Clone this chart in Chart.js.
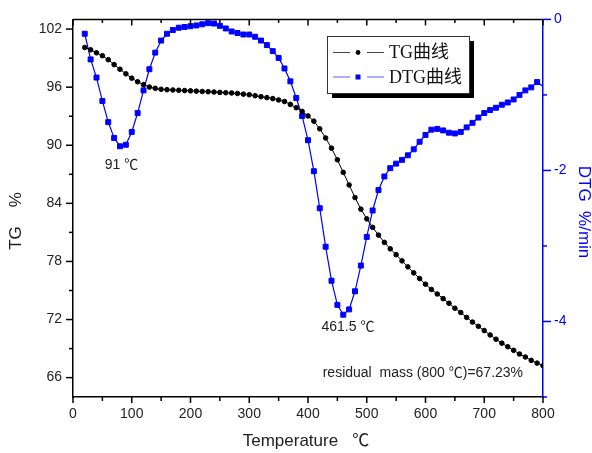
<!DOCTYPE html>
<html>
<head>
<meta charset="utf-8">
<script src="https://cdn.jsdelivr.net/npm/chart.js@4.4.1/dist/chart.umd.min.js"></script>
<style>
body { margin: 0; background: #fff; }
</style>
</head>
<body>
<canvas id="tg_canvas" width="592" height="453"></canvas>
<script>
// temperature (C) of each sample
const temperature = [20, 30, 40, 50, 60, 70, 80, 90, 100, 110, 120, 130, 140, 150, 160, 170, 180, 190, 200,
    210, 220, 230, 240, 250, 260, 270, 280, 290, 300, 310, 320, 330, 340, 350, 360, 370, 380, 390, 400,
    410, 420, 430, 440, 450, 460, 470, 480, 490, 500, 510, 520, 530, 540, 550, 560, 570, 580, 590, 600,
    610, 620, 630, 640, 650, 660, 670, 680, 690, 700, 710, 720, 730, 740, 750, 760, 770, 780, 790, 800];

// TG %
const tg_values = [100.1, 99.86, 99.55, 99.25, 98.84, 98.33, 97.85, 97.38, 96.93, 96.56, 96.26, 96.01, 95.88, 95.78, 95.74, 95.71, 95.68, 95.65, 95.62,
    95.59, 95.56, 95.53, 95.5, 95.46, 95.43, 95.4, 95.35, 95.28, 95.22, 95.12, 95.02, 94.92, 94.82, 94.68, 94.52, 94.22, 93.88, 93.5, 93.03,
    92.49, 91.7, 90.75, 89.7, 88.5, 87.2, 85.9, 84.6, 83.4, 82.4, 81.52, 80.72, 79.97, 79.3, 78.7, 78.06, 77.44, 76.82, 76.23, 75.65,
    75.11, 74.64, 74.16, 73.68, 73.17, 72.73, 72.22, 71.74, 71.3, 70.86, 70.41, 69.97, 69.56, 69.19, 68.82, 68.44, 68.13, 67.78, 67.5, 67.23];

// DTG %/min
const dtg_values = [-0.19, -0.53, -0.77, -1.08, -1.36, -1.57, -1.68, -1.66, -1.49, -1.24, -0.94, -0.66, -0.44, -0.28, -0.19, -0.14, -0.11, -0.1, -0.09,
    -0.08, -0.065, -0.05, -0.055, -0.085, -0.12, -0.16, -0.18, -0.2, -0.2, -0.23, -0.28, -0.34, -0.42, -0.51, -0.65, -0.82, -1.04, -1.28, -1.6,
    -2.01, -2.5, -3.01, -3.46, -3.78, -3.91, -3.84, -3.6, -3.26, -2.88, -2.53, -2.26, -2.08, -1.97, -1.91, -1.86, -1.8, -1.72, -1.62, -1.53,
    -1.46, -1.45, -1.47, -1.5, -1.51, -1.49, -1.43, -1.37, -1.3, -1.24, -1.2, -1.17, -1.13, -1.1, -1.06, -1.0, -0.94, -0.9, -0.83, -0.89];

// ticks
const temp_major = [0, 100, 200, 300, 400, 500, 600, 700, 800];
const temp_minor = [50, 150, 250, 350, 450, 550, 650, 750];
const tg_major = [66, 72, 78, 84, 90, 96, 102];
const tg_minor = [69, 75, 81, 87, 93, 99];
const dtg_major = [-4, -2, 0];
const dtg_minor = [-5, -3, -1];

const tg_label = 'TG曲线';
const dtg_label = 'DTG曲线';

// notes, placed in (temperature, TG) units
const notes = [
    {text: '91 ℃', x: 54, y: 87.9},
    {text: '461.5 ℃', x: 423, y: 71.2},
    {text: 'residual  mass (800 ℃)=67.23%', x: 425, y: 66.5}
];

const sans = "'Liberation Sans', Arial, 'Noto Sans CJK SC', sans-serif";
const serif = "'Liberation Serif', 'Times New Roman', 'Noto Sans CJK SC', serif";
const blue = '#0000ff';

const frame_plugin = {
    id: 'frame_plugin',
    afterDraw(chart) {
        const ctx = chart.ctx;
        const area = chart.chartArea;
        const sx = chart.scales.x, sy = chart.scales.y, sy1 = chart.scales.y1;
        ctx.save();
        ctx.lineWidth = 1.5;

        // top frame line with inward ticks
        ctx.strokeStyle = '#000';
        ctx.beginPath();
        ctx.moveTo(area.left, area.top);
        ctx.lineTo(area.right, area.top);
        ctx.stroke();

        function tick(x1, y1, x2, y2, color) {
            ctx.strokeStyle = color;
            ctx.beginPath();
            ctx.moveTo(x1, y1);
            ctx.lineTo(x2, y2);
            ctx.stroke();
        }
        for (v of temp_major) {
            const px = sx.getPixelForValue(v);
            tick(px, area.bottom, px, area.bottom + 6, '#000');
            tick(px, area.top, px, area.top + 6, '#000');
        }
        for (v of temp_minor) {
            const px = sx.getPixelForValue(v);
            tick(px, area.bottom, px, area.bottom + 4, '#000');
            tick(px, area.top, px, area.top + 3.5, '#000');
        }
        for (v of tg_major) {
            const py = sy.getPixelForValue(v);
            tick(area.left, py, area.left - 7, py, '#000');
        }
        for (v of tg_minor) {
            const py = sy.getPixelForValue(v);
            tick(area.left, py, area.left - 4, py, '#000');
        }
        for (v of dtg_major) {
            const py = sy1.getPixelForValue(v);
            tick(area.right, py, area.right + 8, py, blue);
        }
        for (v of dtg_minor) {
            const py = sy1.getPixelForValue(v);
            tick(area.right, py, area.right + 4, py, blue);
        }

        // axis titles
        ctx.font = '17px ' + sans;
        ctx.textAlign = 'center';
        ctx.textBaseline = 'middle';
        ctx.fillStyle = '#222';
        ctx.fillText('Temperature   ℃', 306, 441);

        ctx.save();
        ctx.translate(16, 221);
        ctx.rotate(-Math.PI / 2);
        ctx.fillText('TG    %', 0, 0);
        ctx.restore();

        ctx.save();
        ctx.fillStyle = blue;
        ctx.translate(584, 212);
        ctx.rotate(Math.PI / 2);
        ctx.fillText('DTG  %/min', 0, 0);
        ctx.restore();

        // notes
        ctx.font = '14px ' + sans;
        ctx.textAlign = 'left';
        ctx.fillStyle = '#222';
        for (n of notes) {
            ctx.fillText(n.text, sx.getPixelForValue(n.x), sy.getPixelForValue(n.y));
        }

        // legend box with shadow
        const bx = 327, by = 36, bw = 142, bh = 57;
        ctx.fillStyle = '#000';
        ctx.fillRect(bx + 5, by + 5, bw, bh);
        ctx.fillStyle = '#fff';
        ctx.fillRect(bx, by, bw, bh);
        ctx.lineWidth = 1;
        ctx.strokeStyle = '#333';
        ctx.strokeRect(bx + 0.5, by + 0.5, bw, bh);

        const rows = [
            {label: tg_label, y: 52.5, line: '#444', ds: chart.data.datasets[0]},
            {label: dtg_label, y: 77, line: '#5a5aff', ds: chart.data.datasets[1]}
        ];
        for (r of rows) {
            ctx.strokeStyle = r.line;
            ctx.lineWidth = 1;
            ctx.beginPath();
            ctx.moveTo(333, r.y);
            ctx.lineTo(350, r.y);
            ctx.moveTo(367, r.y);
            ctx.lineTo(384, r.y);
            ctx.stroke();
            ctx.fillStyle = r.ds.pointBackgroundColor;
            if (r.ds.pointStyle == 'rect') {
                ctx.fillRect(355.5, r.y - 2.5, 5, 5);
            } else {
                ctx.beginPath();
                ctx.arc(358, r.y, 2.4, 0, Math.PI * 2);
                ctx.fill();
            }
            ctx.fillStyle = '#111';
            ctx.font = '18px ' + serif;
            ctx.fillText(r.label, 389, r.y + 1);
        }
        ctx.restore();
    }
};

const last_index = temperature.length - 1;

new Chart(
    document.getElementById('tg_canvas'),
    {
        type: 'line',
        data: {
            datasets: [
                {
                    label: tg_label,
                    data: temperature.map((t, i) => ({x: t, y: tg_values[i]})),
                    yAxisID: 'y',
                    borderColor: '#000',
                    borderWidth: 1,
                    pointStyle: 'circle',
                    pointRadius: 2.3,
                    pointBorderWidth: 1,
                    pointBackgroundColor: '#000',
                    pointBorderColor: '#000',
                    tension: 0
                },
                {
                    label: dtg_label,
                    data: temperature.map((t, i) => ({x: t, y: dtg_values[i]})),
                    yAxisID: 'y1',
                    borderColor: blue,
                    borderWidth: 1.2,
                    pointStyle: 'rect',
                    pointRadius: (c) => c.dataIndex == last_index ? 0 : 3.5,
                    pointBorderWidth: 1,
                    pointBackgroundColor: blue,
                    pointBorderColor: blue,
                    tension: 0
                }
            ]
        },
        options: {
            responsive: false,
            animation: false,
            layout: {padding: {top: 14, left: 0, right: 0, bottom: 0}},
            plugins: {
                legend: {display: false},
                tooltip: {enabled: false}
            },
            scales: {
                x: {
                    type: 'linear',
                    position: 'bottom',
                    min: 0,
                    max: 800,
                    afterBuildTicks: (s) => { s.ticks = temp_major.map(v => ({value: v})); },
                    afterFit: (s) => { s.height = 56; },
                    grid: {display: false, drawTicks: false},
                    border: {color: '#000', width: 1.5},
                    ticks: {padding: 9, color: '#222', font: {family: sans, size: 14}, maxRotation: 0}
                },
                y: {
                    type: 'linear',
                    position: 'left',
                    min: 64,
                    max: 103,
                    afterBuildTicks: (s) => { s.ticks = tg_major.map(v => ({value: v})); },
                    afterFit: (s) => { s.width = 73; },
                    grid: {display: false, drawTicks: false},
                    border: {color: '#000', width: 1.5},
                    ticks: {padding: 11, color: '#222', font: {family: sans, size: 14}}
                },
                y1: {
                    type: 'linear',
                    position: 'right',
                    min: -5,
                    max: 0,
                    afterBuildTicks: (s) => { s.ticks = dtg_major.map(v => ({value: v})); },
                    afterFit: (s) => { s.width = 49; },
                    grid: {display: false, drawTicks: false},
                    border: {color: blue, width: 1.5},
                    ticks: {padding: 11, color: blue, font: {family: sans, size: 14}}
                }
            }
        },
        plugins: [frame_plugin]
    }
);
</script>
</body>
</html>
